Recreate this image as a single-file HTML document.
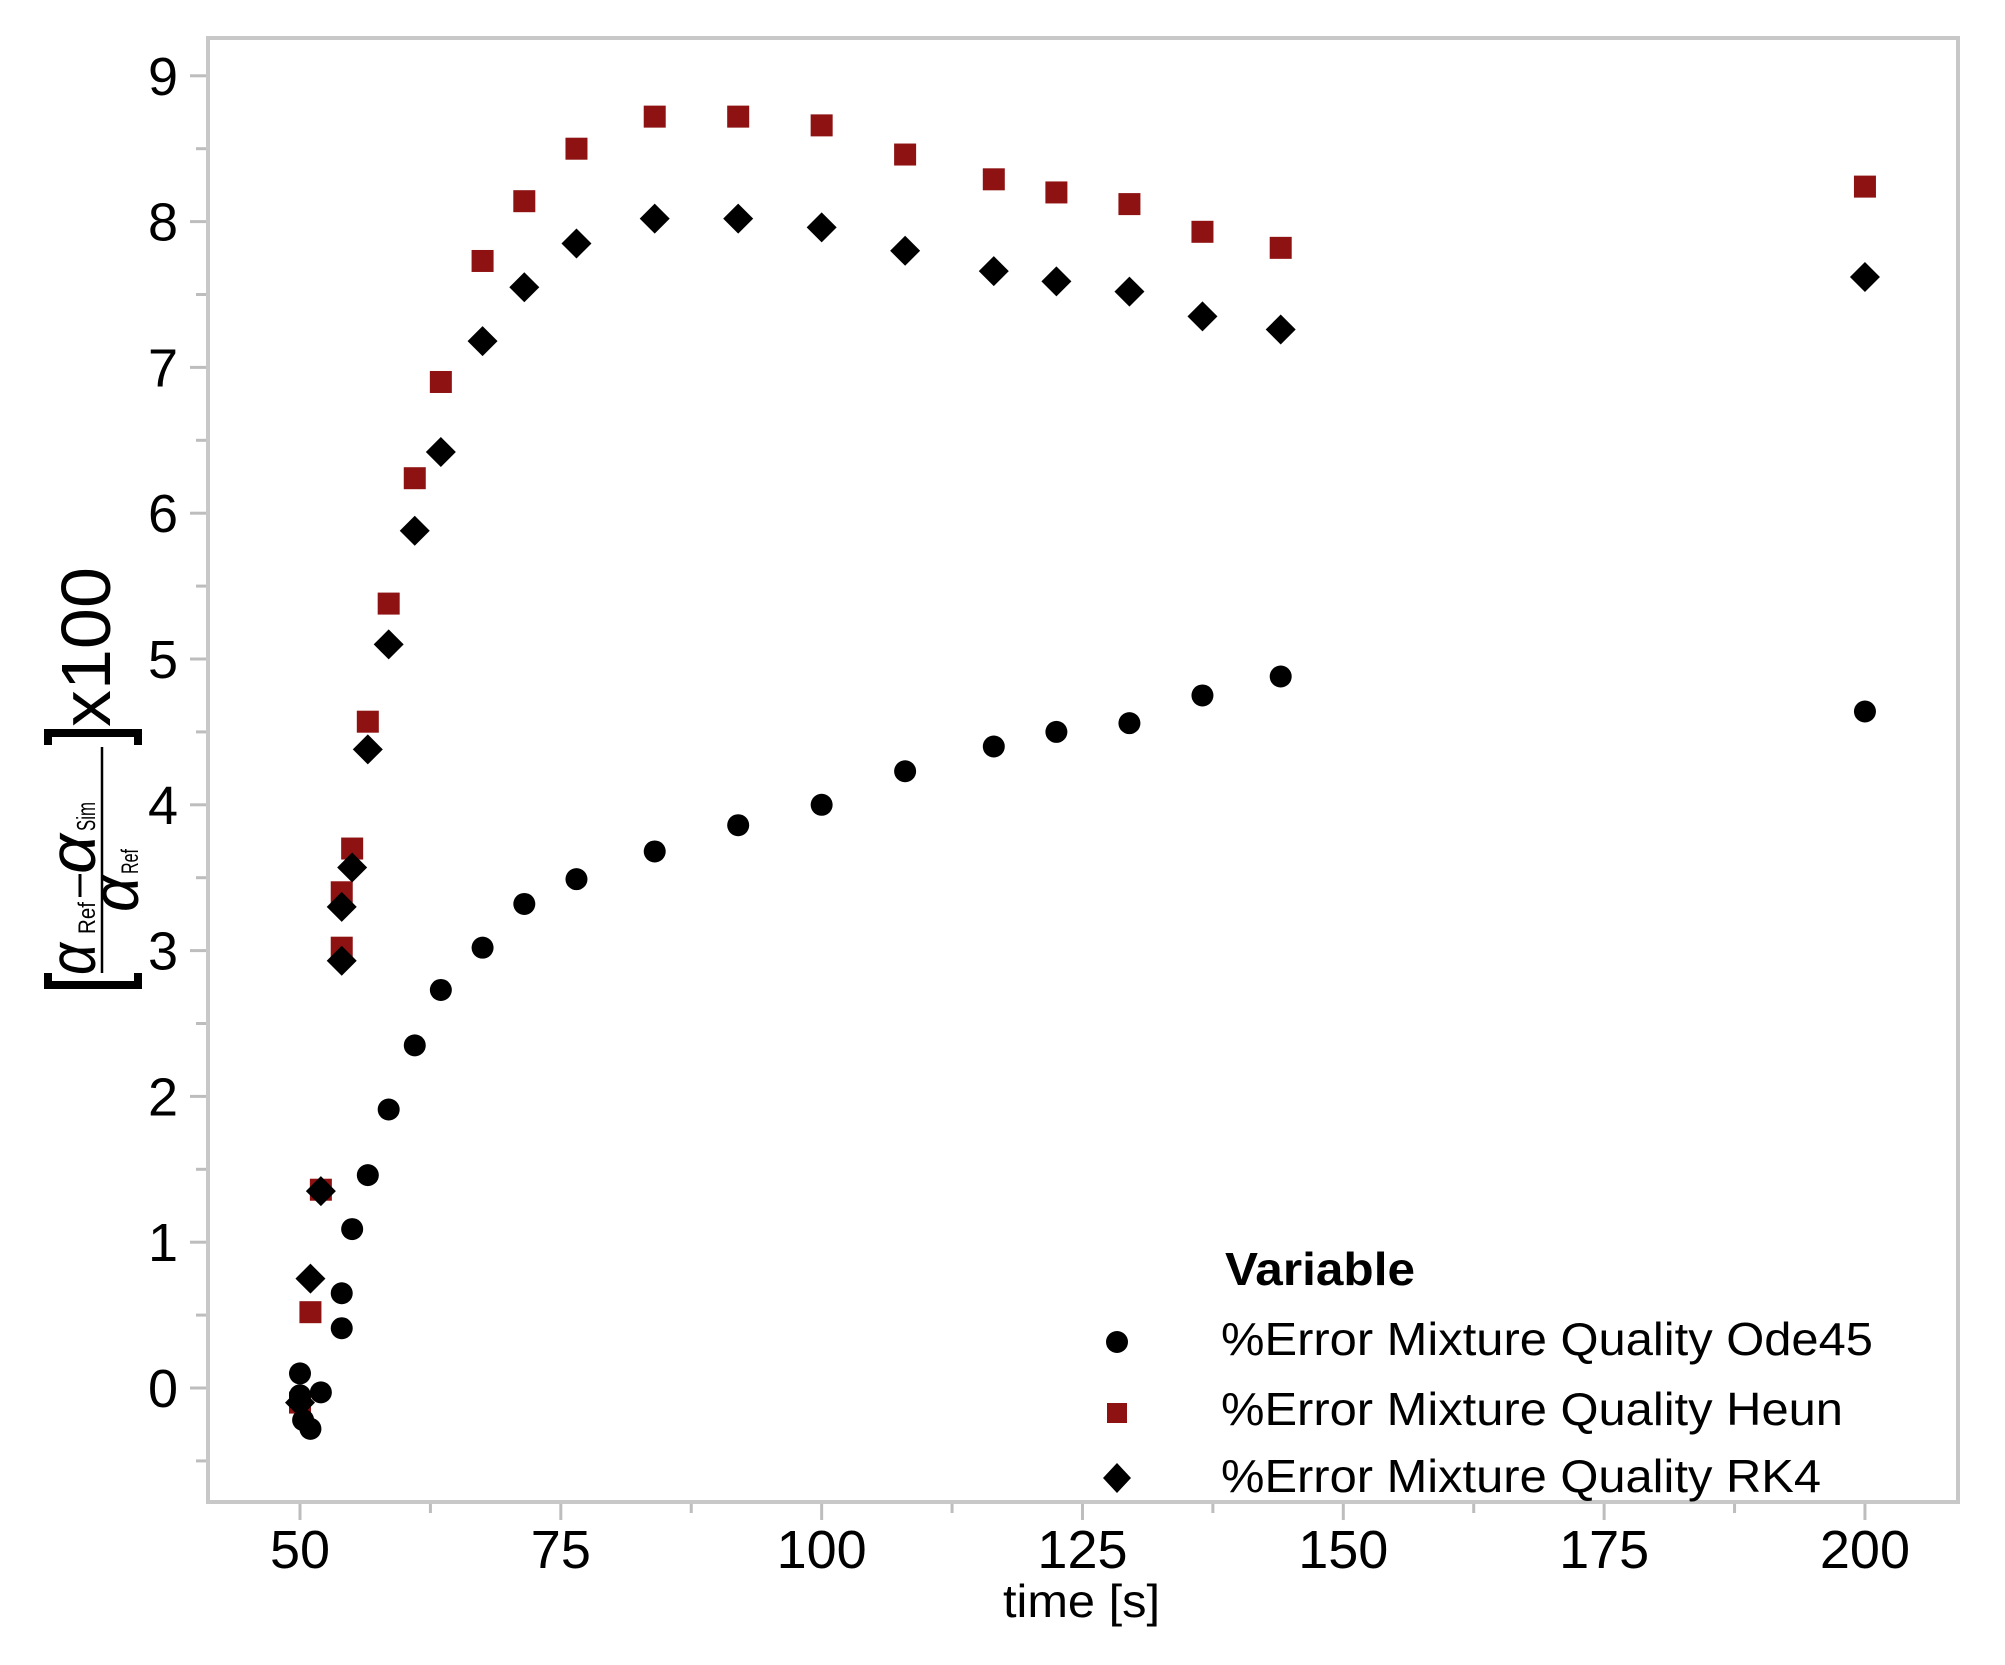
<!DOCTYPE html>
<html><head><meta charset="utf-8"><style>
html,body{margin:0;padding:0;background:#fff}
svg{display:block}
text{font-family:"Liberation Sans",sans-serif;fill:#000}
</style></head><body>
<svg id="s" width="2005" height="1665" viewBox="0 0 2005 1665" xmlns="http://www.w3.org/2000/svg">
<rect x="0" y="0" width="2005" height="1665" fill="#fff"/>
<rect x="208" y="38" width="1750" height="1464" fill="none" stroke="#c8c8c8" stroke-width="4"/>
<g id="ticks" stroke="#bdbdbd" stroke-width="3"></g>
<g id="labels" font-size="54"></g>
<g id="pts"></g>
<text x="1003" y="1617" font-size="46" textLength="157" lengthAdjust="spacingAndGlyphs">time [s]</text>
<!-- y label -->
<g transform="rotate(-90)">
  <path d="M-973,48 L-985,48 L-985,138 L-973,138" fill="none" stroke="#000" stroke-width="8"/>
  <path d="M-745,48 L-733,48 L-733,138 L-745,138" fill="none" stroke="#000" stroke-width="8"/>
  <line x1="-973" y1="102" x2="-747" y2="102" stroke="#000" stroke-width="2.5"/>
  <text x="-975" y="95" font-family="Liberation Serif,serif" font-style="italic" font-size="66" textLength="32" lengthAdjust="spacingAndGlyphs">α</text>
  <text x="-934" y="95" font-size="24" textLength="32" lengthAdjust="spacingAndGlyphs">Ref</text>
  <line x1="-897" y1="80" x2="-874" y2="80" stroke="#000" stroke-width="3"/>
  <text x="-874" y="95" font-family="Liberation Serif,serif" font-style="italic" font-size="66" textLength="40" lengthAdjust="spacingAndGlyphs">α</text>
  <text x="-831" y="95" font-size="26" textLength="29" lengthAdjust="spacingAndGlyphs">Sim</text>
  <text x="-912" y="138" font-family="Liberation Serif,serif" font-style="italic" font-size="66" textLength="36" lengthAdjust="spacingAndGlyphs">α</text>
  <text x="-874" y="138" font-size="24" textLength="25" lengthAdjust="spacingAndGlyphs">Ref</text>
  <text x="-727" y="110" font-size="70" textLength="160" lengthAdjust="spacingAndGlyphs">x100</text>
</g>
<!-- legend -->
<text x="1225" y="1285" font-size="46" font-weight="bold" textLength="190" lengthAdjust="spacingAndGlyphs">Variable</text>
<text x="1221" y="1355" font-size="46" textLength="652" lengthAdjust="spacingAndGlyphs">%Error Mixture Quality Ode45</text>
<text x="1221" y="1425" font-size="46" textLength="622" lengthAdjust="spacingAndGlyphs">%Error Mixture Quality Heun</text>
<text x="1221" y="1492" font-size="46" textLength="600" lengthAdjust="spacingAndGlyphs">%Error Mixture Quality RK4</text>
<circle cx="1117" cy="1342" r="11" fill="#000"/>
<rect x="1107" y="1403" width="20" height="20" fill="#8e1212"/>
<path d="M1117,1463 L1131,1478 L1117,1493 L1103,1478Z" fill="#000"/>
</svg>
<script>
var X=function(v){return 300+(v-50)*10.433}, Y=function(v){return 1388-v*145.8};
var NS="http://www.w3.org/2000/svg";
function el(p,t,a){var e=document.createElementNS(NS,t);for(var k in a)e.setAttribute(k,a[k]);p.appendChild(e);return e}
var tk=document.getElementById('ticks'), lb=document.getElementById('labels'), pts=document.getElementById('pts');
for(var i=-0.5;i<=9;i+=0.5){var y=Y(i),maj=(i%1===0);el(tk,'line',{x1:maj?190:196,x2:206,y1:y,y2:y});
 if(maj){var t=el(lb,'text',{x:178,y:y+19,'text-anchor':'end'});t.textContent=i;}}
for(var v=37.5;v<=212.5;v+=12.5){if(X(v)<210||X(v)>1956)continue;var maj=(v%25===0);el(tk,'line',{x1:X(v),x2:X(v),y1:1504,y2:maj?1520:1513});
 if(maj){var t=el(lb,'text',{x:X(v),y:1568,'text-anchor':'middle'});t.textContent=v;}}
var heun=[[50,-0.1],[51,0.52],[52,1.36],[54,3.02],[54,3.4],[55,3.7],[56.5,4.57],[58.5,5.38],[61,6.24],[63.5,6.9],[67.5,7.73],[71.5,8.14],[76.5,8.5],[84,8.72],[92,8.72],[100,8.66],[108,8.46],[116.5,8.29],[122.5,8.2],[129.5,8.12],[136.5,7.93],[144,7.82],[200,8.24]];
var rk=[[50,-0.1],[51,0.75],[52,1.35],[54,2.93],[54,3.3],[55,3.57],[56.5,4.38],[58.5,5.1],[61,5.88],[63.5,6.42],[67.5,7.18],[71.5,7.55],[76.5,7.85],[84,8.02],[92,8.02],[100,7.96],[108,7.8],[116.5,7.66],[122.5,7.59],[129.5,7.52],[136.5,7.35],[144,7.26],[200,7.62]];
var ode=[[50,0.1],[50,-0.05],[50.3,-0.22],[51,-0.28],[52,-0.03],[54,0.65],[54,0.41],[55,1.09],[56.5,1.46],[58.5,1.91],[61,2.35],[63.5,2.73],[67.5,3.02],[71.5,3.32],[76.5,3.49],[84,3.68],[92,3.86],[100,4.0],[108,4.23],[116.5,4.4],[122.5,4.5],[129.5,4.56],[136.5,4.75],[144,4.88],[200,4.64]];
heun.forEach(function(p){el(pts,'rect',{x:X(p[0])-11,y:Y(p[1])-11,width:22,height:22,fill:'#8e1212'})});
ode.forEach(function(p){el(pts,'circle',{cx:X(p[0]),cy:Y(p[1]),r:11,fill:'#000'})});
rk.forEach(function(p){var x=X(p[0]),y=Y(p[1]);el(pts,'path',{d:'M'+x+','+(y-15)+' L'+(x+15)+','+y+' L'+x+','+(y+15)+' L'+(x-15)+','+y+'Z',fill:'#000'})});
</script>
</body></html>
